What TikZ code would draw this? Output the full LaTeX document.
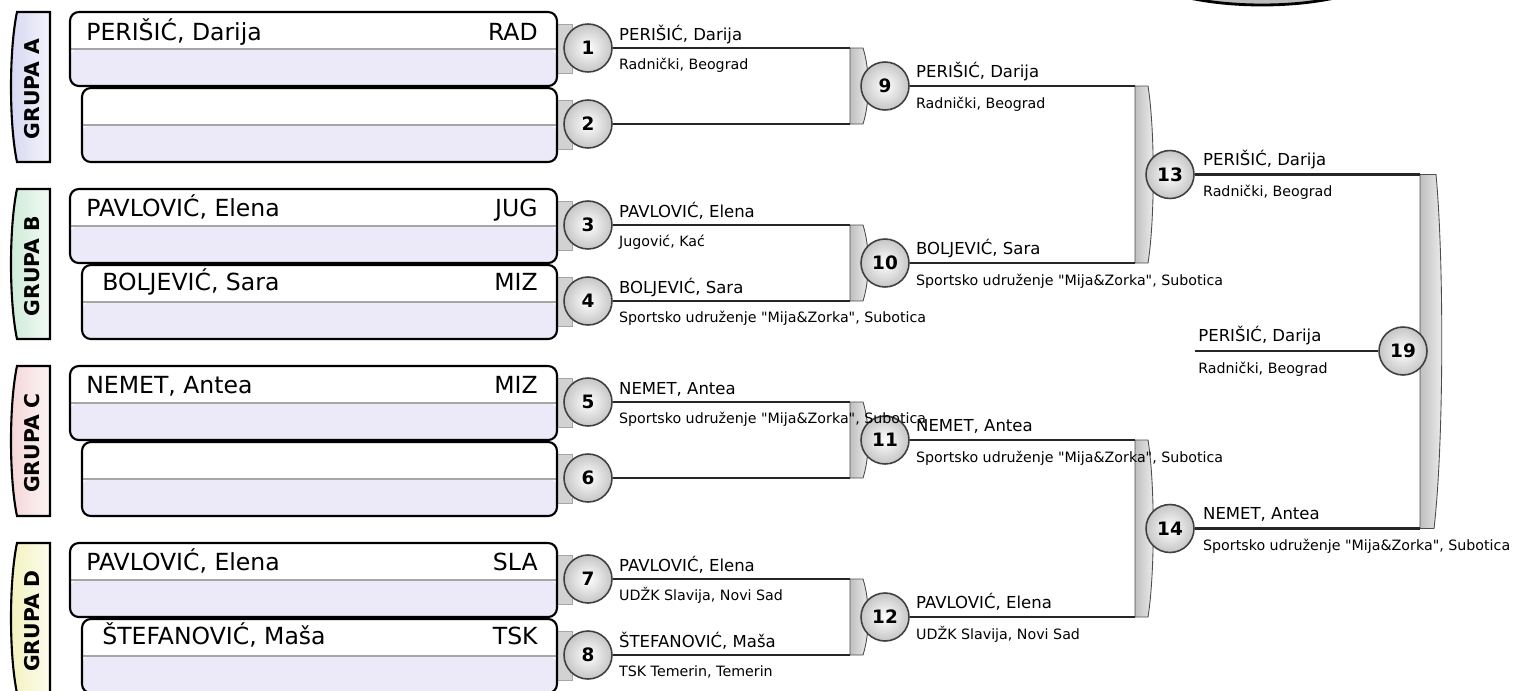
\documentclass[tikz,border=0pt]{standalone}
\usepackage{fontspec}
\setmainfont{DejaVu Sans}
\usetikzlibrary{positioning,calc}
\definecolor{lavbox}{HTML}{ECEAF9}
\definecolor{grpa}{HTML}{D6D6F2}
\definecolor{grpb}{HTML}{CDEBD7}
\definecolor{grpc}{HTML}{F5D5D5}
\definecolor{grpd}{HTML}{F2F2BC}

\begin{document}
\begin{tikzpicture}[
  x=0.02cm, y=-0.02cm,
  tbox/.style={draw, line width=1.2pt, rounded corners=5pt, fill=white, minimum width=9.74cm, minimum height=1.48cm, inner sep=0,
    path picture={\fill[lavbox] (path picture bounding box.west) rectangle (path picture bounding box.south east);
      \draw[gray!70, line width=0.6pt] (path picture bounding box.west) -- (path picture bounding box.east);}},
  bbox/.style={tbox, minimum width=9.5cm},
  grp/.style={draw, line width=1.2pt},
  gtxt/.style={rotate=90, inner sep=0, font=\bfseries\fontsize{11.6}{13}\selectfont},
  pname/.style={anchor=base west, inner sep=0, font=\fontsize{13.4}{16}\selectfont},
  pcode/.style={anchor=base east, inner sep=0, font=\fontsize{13.4}{16}\selectfont},
  gtab/.style={draw=gray!70, line width=0.5pt, fill=gray!35},
  brk/.style={draw=gray!60!black, line width=0.5pt, left color=gray!50, right color=gray!12},
  ball/.style={circle, draw=black!75, line width=0.9pt, minimum size=0.96cm, inner sep=0, inner color=white, outer color=gray!45, font=\bfseries\fontsize{10.5}{12}\selectfont},
  ln/.style={line width=1.2pt, draw=black!85},
  nm/.style={anchor=base west, inner sep=0, font=\fontsize{9.4}{11}\selectfont},
  cl/.style={anchor=base west, inner sep=0, font=\fontsize{8.1}{10}\selectfont}
]
\useasboundingbox (0,0) rectangle (1513,690);
\clip (0,0) rectangle (1513,690);

% piece cut by the top edge
\draw[line width=1.6pt, top color=gray!10, bottom color=gray!55] (1262,-36) ellipse [x radius=2.6cm, y radius=0.82cm];

% group tabs
\draw[grp, left color=grpa, right color=grpa!25] (50,12) -- (17,12) .. controls (9,50) and (9,124) .. (17,162) -- (50,162) -- cycle;
\draw[grp, left color=grpb, right color=grpb!25] (50,189) -- (17,189) .. controls (9,227) and (9,301) .. (17,339) -- (50,339) -- cycle;
\draw[grp, left color=grpc, right color=grpc!25] (50,366) -- (17,366) .. controls (9,404) and (9,478) .. (17,516) -- (50,516) -- cycle;
\draw[grp, left color=grpd, right color=grpd!25] (50,543) -- (17,543) .. controls (9,581) and (9,655) .. (17,693) -- (50,693) -- cycle;
\node[gtxt] (ga) at (32,89) {GRUPA A};
\node[gtxt] (gb) at (32,266) {GRUPA B};
\node[gtxt] (gc) at (32,443) {GRUPA C};
\node[gtxt] (gd) at (32,621) {GRUPA D};

% gray tabs behind the first circles
\draw[gtab] (556,24) rectangle (572,73);
\draw[gtab] (556,100) rectangle (572,149);
\draw[gtab] (556,201) rectangle (572,250);
\draw[gtab] (556,277) rectangle (572,326);
\draw[gtab] (556,378) rectangle (572,427);
\draw[gtab] (556,454) rectangle (572,503);
\draw[gtab] (556,555) rectangle (572,604);
\draw[gtab] (556,631) rectangle (572,680);

% player boxes
\node[tbox] (b1) at (313.5,49) {};
\node[bbox] (b2) at (319.5,125) {};
\node[tbox] (b3) at (313.5,226) {};
\node[bbox] (b4) at (319.5,302) {};
\node[tbox] (b5) at (313.5,403) {};
\node[bbox] (b6) at (319.5,479) {};
\node[tbox] (b7) at (313.5,580) {};
\node[bbox] (b8) at (319.5,656) {};

\node[pname] (t1) at ([shift={(17,30)}]b1.north west) {PERIŠIĆ, Darija};
\node[pcode] (c1) at ([shift={(-20,30)}]b1.north east) {RAD};
\node[pname] (t3) at ([shift={(17,29)}]b3.north west) {PAVLOVIĆ, Elena};
\node[pcode] (c3) at ([shift={(-20,29)}]b3.north east) {JUG};
\node[pname] (t4) at ([shift={(21,27)}]b4.north west) {BOLJEVIĆ, Sara};
\node[pcode] (c4) at ([shift={(-20,27)}]b4.north east) {MIZ};
\node[pname] (t5) at ([shift={(17,29)}]b5.north west) {NEMET, Antea};
\node[pcode] (c5) at ([shift={(-20,29)}]b5.north east) {MIZ};
\node[pname] (t7) at ([shift={(17,29)}]b7.north west) {PAVLOVIĆ, Elena};
\node[pcode] (c7) at ([shift={(-20,29)}]b7.north east) {SLA};
\node[pname] (t8) at ([shift={(21,27)}]b8.north west) {ŠTEFANOVIĆ, Maša};
\node[pcode] (c8) at ([shift={(-20,27)}]b8.north east) {TSK};

% brackets
\draw[brk] (850,48) -- (863,48) .. controls (870,70) and (870,102) .. (863,124) -- (850,124) -- cycle;
\draw[brk] (850,225) -- (863,225) .. controls (870,247) and (870,279) .. (863,301) -- (850,301) -- cycle;
\draw[brk] (850,402) -- (863,402) .. controls (870,424) and (870,456) .. (863,478) -- (850,478) -- cycle;
\draw[brk] (850,579) -- (863,579) .. controls (870,601) and (870,633) .. (863,655) -- (850,655) -- cycle;
\draw[brk] (1135,86) -- (1148,86) .. controls (1155,130) and (1155,219) .. (1148,263) -- (1135,263) -- cycle;
\draw[brk] (1135,440) -- (1148,440) .. controls (1155,484) and (1155,573) .. (1148,617) -- (1135,617) -- cycle;
\draw[brk] (1420,174.5) -- (1436,174.5) .. controls (1444,260) and (1444,443) .. (1434,528.5) -- (1420,528.5) -- cycle;
\coordinate (j9) at (850,86);
\coordinate (j13) at (1135,174.5);
\coordinate (j19) at (1420,351);
\coordinate (f19) at (1195,351);

% matches
\node[ball] (m1) at (588,48) {1};
\node[ball] (m2) at (588,124) {2};
\node[ball] (m3) at (588,225) {3};
\node[ball] (m4) at (588,301) {4};
\node[ball] (m5) at (588,402) {5};
\node[ball] (m6) at (588,478) {6};
\node[ball] (m7) at (588,579) {7};
\node[ball] (m8) at (588,655) {8};
\node[ball] (m9) at (885,86) {9};
\node[ball] (m10) at (885,263) {10};
\node[ball] (m11) at (885,440) {11};
\node[ball] (m12) at (885,617) {12};
\node[ball] (m13) at (1170,174.5) {13};
\node[ball] (m14) at (1170,528.5) {14};
\node[ball] (m19) at (1403,351) {19};

\draw[ln] (m1.east) -- (m1.east -| j9);
\draw[ln] (m2.east) -- (m2.east -| j9);
\draw[ln] (m3.east) -- (m3.east -| j9);
\draw[ln] (m4.east) -- (m4.east -| j9);
\draw[ln] (m5.east) -- (m5.east -| j9);
\draw[ln] (m6.east) -- (m6.east -| j9);
\draw[ln] (m7.east) -- (m7.east -| j9);
\draw[ln] (m8.east) -- (m8.east -| j9);
\draw[ln] (m9.east) -- (m9.east -| j13);
\draw[ln] (m10.east) -- (m10.east -| j13);
\draw[ln] (m11.east) -- (m11.east -| j13);
\draw[ln] (m12.east) -- (m12.east -| j13);
\draw[ln] (m13.east) -- (m13.east -| j19);
\draw[ln] (m14.east) -- (m14.east -| j19);
\draw[ln] (f19) -- (m19.west);

% winners
\node[nm] (n1) at ([shift={(6,-8)}]m1.east) {PERIŠIĆ, Darija};
\node[cl] (k1) at ([shift={(6,21)}]m1.east) {Radnički, Beograd};
\node[nm] (n3) at ([shift={(6,-8)}]m3.east) {PAVLOVIĆ, Elena};
\node[cl] (k3) at ([shift={(6,21)}]m3.east) {Jugović, Kać};
\node[nm] (n4) at ([shift={(6,-8)}]m4.east) {BOLJEVIĆ, Sara};
\node[cl] (k4) at ([shift={(6,21)}]m4.east) {Sportsko udruženje \textquotedbl Mija\&Zorka\textquotedbl, Subotica};
\node[nm] (n5) at ([shift={(6,-8)}]m5.east) {NEMET, Antea};
\node[cl] (k5) at ([shift={(6,21)}]m5.east) {Sportsko udruženje \textquotedbl Mija\&Zorka\textquotedbl, Subotica};
\node[nm] (n7) at ([shift={(6,-8)}]m7.east) {PAVLOVIĆ, Elena};
\node[cl] (k7) at ([shift={(6,21)}]m7.east) {UDŽK Slavija, Novi Sad};
\node[nm] (n8) at ([shift={(6,-8)}]m8.east) {ŠTEFANOVIĆ, Maša};
\node[cl] (k8) at ([shift={(6,21)}]m8.east) {TSK Temerin, Temerin};
\node[nm] (n9) at ([shift={(6,-9)}]m9.east) {PERIŠIĆ, Darija};
\node[cl] (k9) at ([shift={(6,22)}]m9.east) {Radnički, Beograd};
\node[nm] (n10) at ([shift={(6,-9)}]m10.east) {BOLJEVIĆ, Sara};
\node[cl] (k10) at ([shift={(6,22)}]m10.east) {Sportsko udruženje \textquotedbl Mija\&Zorka\textquotedbl, Subotica};
\node[nm] (n11) at ([shift={(6,-9)}]m11.east) {NEMET, Antea};
\node[cl] (k11) at ([shift={(6,22)}]m11.east) {Sportsko udruženje \textquotedbl Mija\&Zorka\textquotedbl, Subotica};
\node[nm] (n12) at ([shift={(6,-9)}]m12.east) {PAVLOVIĆ, Elena};
\node[cl] (k12) at ([shift={(6,22)}]m12.east) {UDŽK Slavija, Novi Sad};
\node[nm] (n13) at ([shift={(8,-9)}]m13.east) {PERIŠIĆ, Darija};
\node[cl] (k13) at ([shift={(8,22)}]m13.east) {Radnički, Beograd};
\node[nm] (n14) at ([shift={(8,-9)}]m14.east) {NEMET, Antea};
\node[cl] (k14) at ([shift={(8,22)}]m14.east) {Sportsko udruženje \textquotedbl Mija\&Zorka\textquotedbl, Subotica};
\node[nm] (n19) at ([shift={(3,-10)}]f19) {PERIŠIĆ, Darija};
\node[cl] (k19) at ([shift={(3,22)}]f19) {Radnički, Beograd};
\end{tikzpicture}
\end{document}
